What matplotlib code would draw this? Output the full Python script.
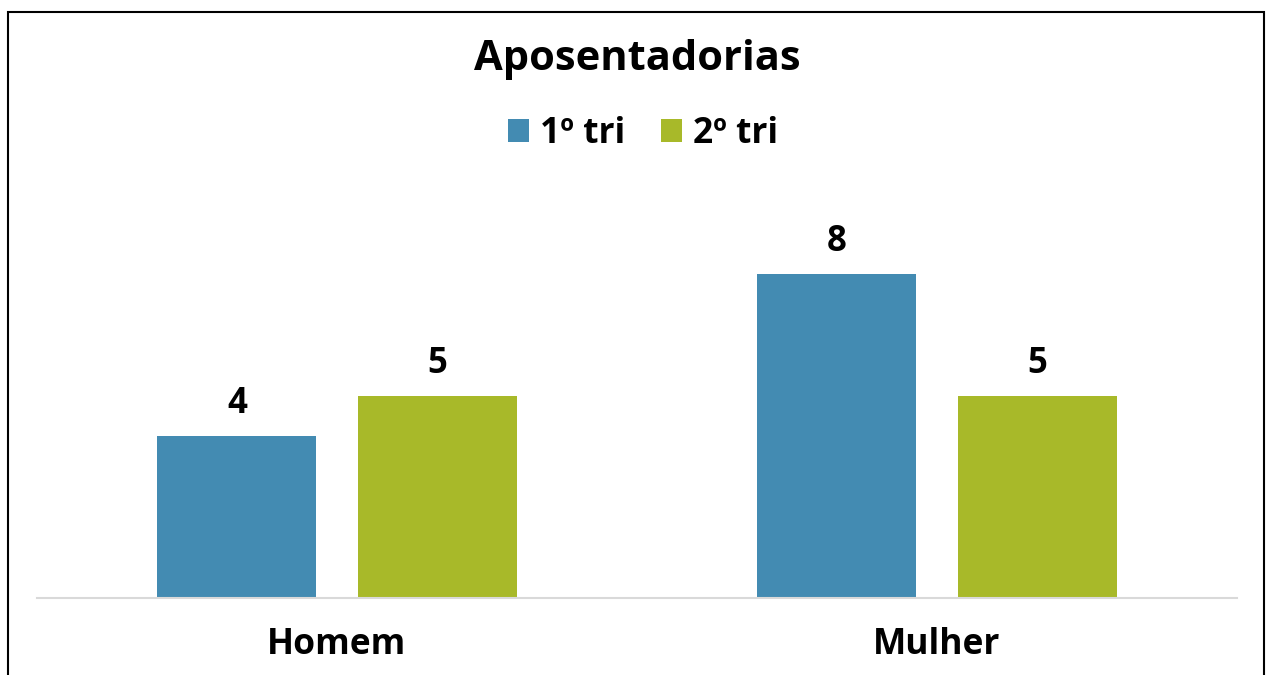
import matplotlib.pyplot as plt
from matplotlib.patches import Rectangle
import numpy as np

categorias = ['Homem', 'Mulher']
series = ['1º tri', '2º tri']
tri1 = [4, 8]
tri2 = [5, 5]
cores = ['#438BB2', '#A8B929']

plt.rcParams['font.family'] = ['Open Sans', 'DejaVu Sans']
plt.rcParams['font.weight'] = 'bold'

W, H = 1267, 675
fig = plt.figure(figsize=(W / 100, H / 100), dpi=100)

# area do grafico em pixels
ax = fig.add_axes([37 / W, (H - 598) / H, 1200 / W, 405 / H])

x = np.arange(len(categorias))
largura = 0.265
desloc = 0.1667
b1 = ax.bar(x - desloc, tri1, largura, color=cores[0], label=series[0])
b2 = ax.bar(x + desloc, tri2, largura, color=cores[1], label=series[1])

for barras in (b1, b2):
    for b in barras:
        ax.annotate(str(int(b.get_height())),
                    (b.get_x() + b.get_width() / 2, b.get_height()),
                    xytext=(0, 10), textcoords='offset points',
                    ha='center', va='bottom', fontsize=25, fontweight='bold')

ax.set_xlim(-0.5, 1.5)
ax.set_ylim(0, 10)
ax.set_yticks([])
ax.set_xticks(x)
ax.set_xticklabels(categorias, fontsize=25.5, fontweight='bold')
ax.tick_params(axis='x', length=0, pad=21)
for s in ['top', 'right', 'left']:
    ax.spines[s].set_visible(False)
ax.spines['bottom'].set_color('#D9D9D9')
ax.spines['bottom'].set_linewidth(1.5)

fig.text(637 / W, 1 - 59 / H, 'Aposentadorias', ha='center', va='center',
         fontsize=30, fontweight='bold')

fig.legend(handles=[b1, b2], loc='center', bbox_to_anchor=(643 / W, 1 - 134 / H),
           ncol=2, frameon=False, handlelength=0.6, handleheight=0.6,
           handletextpad=0.3, columnspacing=1.0, prop={'weight': 'bold', 'size': 25.5})

# moldura
fig.patches.append(Rectangle((8 / W, -0.1), (1264 - 8) / W, 1.1 - 12 / H,
                             transform=fig.transFigure, fill=False,
                             edgecolor='black', linewidth=1.5))

fig.savefig('out.png', dpi=100, facecolor='white')
